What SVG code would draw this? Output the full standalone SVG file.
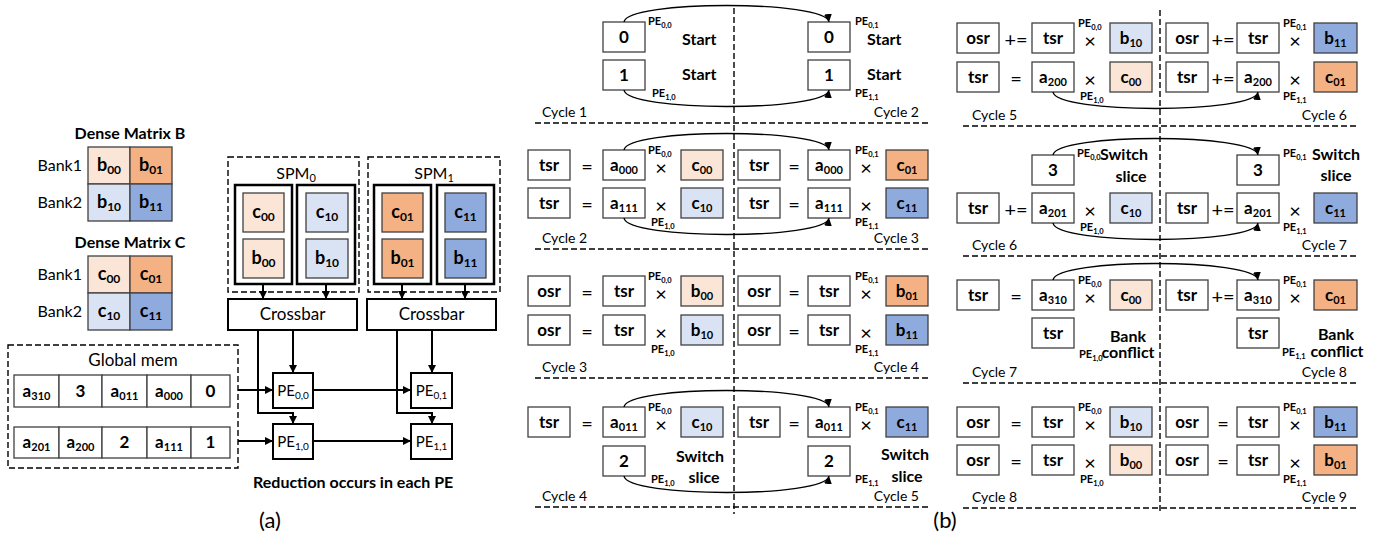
<svg xmlns="http://www.w3.org/2000/svg" width="1385" height="539" viewBox="0 0 1385 539">
<defs>
<style>
text{font-family:Lato,'Liberation Sans',sans-serif;fill:#000}
.bx{fill:#fff;stroke:#404040;stroke-width:1.3}
.lo{fill:#FBE5D6;stroke:#404040;stroke-width:1.3}
.or{fill:#F4B183;stroke:#404040;stroke-width:1.3}
.lb{fill:#DAE3F3;stroke:#404040;stroke-width:1.3}
.bl{fill:#8FAADC;stroke:#404040;stroke-width:1.3}
.bt{font-weight:700;font-size:17px;text-anchor:middle}
.s{font-size:11px}
.pe{font-weight:700;font-size:11px}
.ps{font-size:7.5px}
.op{font-size:20px;text-anchor:middle;dominant-baseline:central}
.cy{font-size:14px}
.cyr{font-size:14px;text-anchor:end}
.lab{font-weight:700;font-size:16px}
.dl{stroke:#000;stroke-width:1.4;stroke-dasharray:6 3;fill:none}
.arc{fill:none;stroke:#000;stroke-width:1.4;marker-end:url(#ah)}
.ln{fill:none;stroke:#000;stroke-width:2;marker-end:url(#ah)}
.thk{fill:#fff;stroke:#000;stroke-width:2.5}
.nm{font-size:17px;text-anchor:middle}
.cb{font-weight:700;font-size:18px;text-anchor:middle}
.cs{font-size:12px}
</style>
<marker id="ah" viewBox="0 0 10 10" refX="10" refY="5" markerWidth="8" markerHeight="8" markerUnits="userSpaceOnUse" orient="auto"><path d="M0,0 L10,5 L0,10 z" fill="#000"/></marker>
</defs>
<rect width="1385" height="539" fill="#fff"/>

<!-- ===== (a) ===== -->
<g id="legend-b">
<text class="lab" x="130" y="139" text-anchor="middle">Dense Matrix B</text>
<text x="82" y="171" font-size="16" text-anchor="end">Bank1</text>
<text x="82" y="208" font-size="16" text-anchor="end">Bank2</text>
<rect class="lo" x="88" y="147" width="42" height="37"/><text class="cb" x="109" y="171">b<tspan class="cs" dy="3">00</tspan></text>
<rect class="or" x="130" y="147" width="42" height="37"/><text class="cb" x="151" y="171">b<tspan class="cs" dy="3">01</tspan></text>
<rect class="lb" x="88" y="184" width="42" height="37"/><text class="cb" x="109" y="208">b<tspan class="cs" dy="3">10</tspan></text>
<rect class="bl" x="130" y="184" width="42" height="37"/><text class="cb" x="151" y="208">b<tspan class="cs" dy="3">11</tspan></text>
</g>
<g id="legend-c">
<text class="lab" x="130" y="248" text-anchor="middle">Dense Matrix C</text>
<text x="82" y="280" font-size="16" text-anchor="end">Bank1</text>
<text x="82" y="317" font-size="16" text-anchor="end">Bank2</text>
<rect class="lo" x="88" y="256" width="42" height="37"/><text class="cb" x="109" y="280">c<tspan class="cs" dy="3">00</tspan></text>
<rect class="or" x="130" y="256" width="42" height="37"/><text class="cb" x="151" y="280">c<tspan class="cs" dy="3">01</tspan></text>
<rect class="lb" x="88" y="293" width="42" height="37"/><text class="cb" x="109" y="317">c<tspan class="cs" dy="3">10</tspan></text>
<rect class="bl" x="130" y="293" width="42" height="37"/><text class="cb" x="151" y="317">c<tspan class="cs" dy="3">11</tspan></text>
</g>

<g id="spm0">
<rect class="dl" x="228" y="157" width="131" height="135"/>
<text x="296" y="179" font-size="16" text-anchor="middle">SPM<tspan font-size="11" dy="3">0</tspan></text>
<rect class="thk" x="235" y="185" width="57" height="99"/>
<rect class="thk" x="297" y="185" width="58" height="99"/>
<rect class="lo" x="243" y="193" width="41" height="39"/><text class="cb" x="263.5" y="218">c<tspan class="cs" dy="3">00</tspan></text>
<rect class="lo" x="243" y="239" width="41" height="39"/><text class="cb" x="263.5" y="264">b<tspan class="cs" dy="3">00</tspan></text>
<rect class="lb" x="306" y="193" width="42" height="39"/><text class="cb" x="327" y="218">c<tspan class="cs" dy="3">10</tspan></text>
<rect class="lb" x="306" y="239" width="42" height="39"/><text class="cb" x="327" y="264">b<tspan class="cs" dy="3">10</tspan></text>
</g>
<g id="spm1">
<rect class="dl" x="368" y="157" width="132" height="135"/>
<text x="434" y="179" font-size="16" text-anchor="middle">SPM<tspan font-size="11" dy="3">1</tspan></text>
<rect class="thk" x="374" y="185" width="57" height="99"/>
<rect class="thk" x="437" y="185" width="57" height="99"/>
<rect class="or" x="382" y="193" width="41" height="39"/><text class="cb" x="402.5" y="218">c<tspan class="cs" dy="3">01</tspan></text>
<rect class="or" x="382" y="239" width="41" height="39"/><text class="cb" x="402.5" y="264">b<tspan class="cs" dy="3">01</tspan></text>
<rect class="bl" x="445" y="193" width="41" height="39"/><text class="cb" x="465.5" y="218">c<tspan class="cs" dy="3">11</tspan></text>
<rect class="bl" x="445" y="239" width="41" height="39"/><text class="cb" x="465.5" y="264">b<tspan class="cs" dy="3">11</tspan></text>
</g>
<g id="crossbar0">
<rect x="228" y="299" width="129" height="31" fill="#fff" stroke="#000" stroke-width="2"/>
<text class="nm" x="292.5" y="320">Crossbar</text>
</g>
<g id="crossbar1">
<rect x="367" y="299" width="129" height="31" fill="#fff" stroke="#000" stroke-width="2"/>
<text class="nm" x="431.5" y="320">Crossbar</text>
</g>
<g id="pe00"><rect x="273" y="373" width="40" height="35" fill="#fff" stroke="#000" stroke-width="2"/><text x="293" y="396" font-size="15" text-anchor="middle">PE<tspan font-size="10" dy="3">0,0</tspan></text></g>
<g id="pe10"><rect x="273" y="424" width="40" height="35" fill="#fff" stroke="#000" stroke-width="2"/><text x="293" y="447" font-size="15" text-anchor="middle">PE<tspan font-size="10" dy="3">1,0</tspan></text></g>
<g id="pe01"><rect x="411" y="373" width="41" height="35" fill="#fff" stroke="#000" stroke-width="2"/><text x="431.5" y="396" font-size="15" text-anchor="middle">PE<tspan font-size="10" dy="3">0,1</tspan></text></g>
<g id="pe11"><rect x="411" y="424" width="41" height="35" fill="#fff" stroke="#000" stroke-width="2"/><text x="431.5" y="447" font-size="15" text-anchor="middle">PE<tspan font-size="10" dy="3">1,1</tspan></text></g>

<g id="global-mem">
<rect class="dl" x="8" y="345" width="230" height="123"/>
<text x="133" y="366" font-size="17" text-anchor="middle">Global mem</text>
<rect class="bx" x="14" y="375" width="45" height="32"/><text class="bt" x="36.5" y="397">a<tspan class="s" dy="3">310</tspan></text>
<rect class="bx" x="59" y="375" width="43" height="32"/><text class="bt" x="80.5" y="397">3</text>
<rect class="bx" x="102" y="375" width="45" height="32"/><text class="bt" x="124.5" y="397">a<tspan class="s" dy="3">011</tspan></text>
<rect class="bx" x="147" y="375" width="44" height="32"/><text class="bt" x="169" y="397">a<tspan class="s" dy="3">000</tspan></text>
<rect class="bx" x="191" y="375" width="39" height="32"/><text class="bt" x="210.5" y="397">0</text>
<rect class="bx" x="14" y="427" width="45" height="31"/><text class="bt" x="36.5" y="448">a<tspan class="s" dy="3">201</tspan></text>
<rect class="bx" x="59" y="427" width="43" height="31"/><text class="bt" x="80.5" y="448">a<tspan class="s" dy="3">200</tspan></text>
<rect class="bx" x="102" y="427" width="45" height="31"/><text class="bt" x="124.5" y="448">2</text>
<rect class="bx" x="147" y="427" width="44" height="31"/><text class="bt" x="169" y="448">a<tspan class="s" dy="3">111</tspan></text>
<rect class="bx" x="191" y="427" width="39" height="31"/><text class="bt" x="210.5" y="448">1</text>
</g>
<text class="lab" x="253" y="488">Reduction occurs in each PE</text>
<text x="270" y="528" font-size="22" text-anchor="middle">(a)</text>

<!-- ===== (b) frame ===== -->
<g id="grid-lines">
<path class="dl" d="M535,123 H928 M535,249 H928 M535,378 H928 M535,507 H928 M734,8 V514"/>
<path class="dl" d="M963,126 H1357 M963,256 H1357 M963,383 H1357 M963,508 H1357 M1160,10 V514"/>
</g>
<text x="945" y="528" font-size="22" text-anchor="middle">(b)</text>

<!-- Column 1 -->
<g id="c1-cycle1">
<rect class="bx" x="603" y="22" width="42" height="30"/><text class="bt" x="624" y="43">0</text>
<rect class="bx" x="603" y="60" width="42" height="30"/><text class="bt" x="624" y="81">1</text>
<text class="pe" x="648" y="25">PE<tspan class="ps" dy="3">0,0</tspan></text>
<text class="lab" x="682" y="45">Start</text>
<text class="lab" x="682" y="80">Start</text>
<text class="pe" x="652" y="97">PE<tspan class="ps" dy="3">1,0</tspan></text>
<rect class="bx" x="808" y="22" width="42" height="30"/><text class="bt" x="829" y="43">0</text>
<rect class="bx" x="808" y="60" width="42" height="30"/><text class="bt" x="829" y="81">1</text>
<text class="pe" x="855" y="25">PE<tspan class="ps" dy="3">0,1</tspan></text>
<text class="lab" x="867" y="45">Start</text>
<text class="lab" x="867" y="80">Start</text>
<text class="pe" x="855" y="97">PE<tspan class="ps" dy="3">1,1</tspan></text>
<text class="cy" x="542" y="117">Cycle 1</text>
<text class="cyr" x="919" y="117">Cycle 2</text>
</g>

<g id="c1-cycle2">
<rect class="bx" x="528" y="150" width="42" height="30"/><text class="bt" x="549" y="171">tsr</text>
<text class="op" x="587" y="166">=</text>
<rect class="bx" x="603" y="150" width="42" height="30"/><text class="bt" x="624" y="171">a<tspan class="s" dy="3">000</tspan></text>
<text class="op" x="661" y="167">×</text>
<rect class="lo" x="681" y="150" width="42" height="30"/><text class="bt" x="702" y="171">c<tspan class="s" dy="3">00</tspan></text>
<text class="pe" x="648" y="154">PE<tspan class="ps" dy="3">0,0</tspan></text>
<rect class="bx" x="528" y="188" width="42" height="30"/><text class="bt" x="549" y="209">tsr</text>
<text class="op" x="587" y="204">=</text>
<rect class="bx" x="603" y="188" width="42" height="30"/><text class="bt" x="624" y="209">a<tspan class="s" dy="3">111</tspan></text>
<text class="op" x="661" y="205">×</text>
<rect class="lb" x="681" y="188" width="42" height="30"/><text class="bt" x="702" y="209">c<tspan class="s" dy="3">10</tspan></text>
<text class="pe" x="651" y="226">PE<tspan class="ps" dy="3">1,0</tspan></text>
<rect class="bx" x="738" y="150" width="42" height="30"/><text class="bt" x="759" y="171">tsr</text>
<text class="op" x="794" y="166">=</text>
<rect class="bx" x="808" y="150" width="42" height="30"/><text class="bt" x="829" y="171">a<tspan class="s" dy="3">000</tspan></text>
<text class="op" x="866" y="167">×</text>
<rect class="or" x="886" y="150" width="42" height="30"/><text class="bt" x="907" y="171">c<tspan class="s" dy="3">01</tspan></text>
<text class="pe" x="855" y="154">PE<tspan class="ps" dy="3">0,1</tspan></text>
<rect class="bx" x="738" y="188" width="42" height="30"/><text class="bt" x="759" y="209">tsr</text>
<text class="op" x="794" y="204">=</text>
<rect class="bx" x="808" y="188" width="42" height="30"/><text class="bt" x="829" y="209">a<tspan class="s" dy="3">111</tspan></text>
<text class="op" x="866" y="205">×</text>
<rect class="bl" x="886" y="188" width="42" height="30"/><text class="bt" x="907" y="209">c<tspan class="s" dy="3">11</tspan></text>
<text class="pe" x="855" y="226">PE<tspan class="ps" dy="3">1,1</tspan></text>
<text class="cy" x="542" y="243">Cycle 2</text>
<text class="cyr" x="919" y="243">Cycle 3</text>
</g>

<g id="c1-cycle3">
<rect class="bx" x="528" y="276" width="42" height="30"/><text class="bt" x="549" y="297">osr</text>
<text class="op" x="587" y="292">=</text>
<rect class="bx" x="603" y="276" width="42" height="30"/><text class="bt" x="624" y="297">tsr</text>
<text class="op" x="661" y="293">×</text>
<rect class="lo" x="681" y="276" width="42" height="30"/><text class="bt" x="702" y="297">b<tspan class="s" dy="3">00</tspan></text>
<text class="pe" x="648" y="280">PE<tspan class="ps" dy="3">0,0</tspan></text>
<rect class="bx" x="528" y="315" width="42" height="30"/><text class="bt" x="549" y="336">osr</text>
<text class="op" x="587" y="331">=</text>
<rect class="bx" x="603" y="315" width="42" height="30"/><text class="bt" x="624" y="336">tsr</text>
<text class="op" x="661" y="332">×</text>
<rect class="lb" x="681" y="315" width="42" height="30"/><text class="bt" x="702" y="336">b<tspan class="s" dy="3">10</tspan></text>
<text class="pe" x="651" y="353">PE<tspan class="ps" dy="3">1,0</tspan></text>
<rect class="bx" x="738" y="276" width="42" height="30"/><text class="bt" x="759" y="297">osr</text>
<text class="op" x="794" y="292">=</text>
<rect class="bx" x="808" y="276" width="42" height="30"/><text class="bt" x="829" y="297">tsr</text>
<text class="op" x="866" y="293">×</text>
<rect class="or" x="886" y="276" width="42" height="30"/><text class="bt" x="907" y="297">b<tspan class="s" dy="3">01</tspan></text>
<text class="pe" x="855" y="280">PE<tspan class="ps" dy="3">0,1</tspan></text>
<rect class="bx" x="738" y="315" width="42" height="30"/><text class="bt" x="759" y="336">osr</text>
<text class="op" x="794" y="331">=</text>
<rect class="bx" x="808" y="315" width="42" height="30"/><text class="bt" x="829" y="336">tsr</text>
<text class="op" x="866" y="332">×</text>
<rect class="bl" x="886" y="315" width="42" height="30"/><text class="bt" x="907" y="336">b<tspan class="s" dy="3">11</tspan></text>
<text class="pe" x="855" y="353">PE<tspan class="ps" dy="3">1,1</tspan></text>
<text class="cy" x="542" y="372">Cycle 3</text>
<text class="cyr" x="919" y="372">Cycle 4</text>
</g>

<g id="c1-cycle4">
<rect class="bx" x="528" y="407" width="42" height="30"/><text class="bt" x="549" y="428">tsr</text>
<text class="op" x="587" y="423">=</text>
<rect class="bx" x="603" y="407" width="42" height="30"/><text class="bt" x="624" y="428">a<tspan class="s" dy="3">011</tspan></text>
<text class="op" x="661" y="424">×</text>
<rect class="lb" x="681" y="407" width="42" height="30"/><text class="bt" x="702" y="428">c<tspan class="s" dy="3">10</tspan></text>
<text class="pe" x="648" y="411">PE<tspan class="ps" dy="3">0,0</tspan></text>
<rect class="bx" x="603" y="446" width="42" height="30"/><text class="bt" x="624" y="467">2</text>
<text class="lab" x="700" y="462" text-anchor="middle">Switch</text>
<text class="pe" x="651" y="483">PE<tspan class="ps" dy="3">1,0</tspan></text>
<text class="lab" x="704" y="483" text-anchor="middle">slice</text>
<rect class="bx" x="738" y="407" width="42" height="30"/><text class="bt" x="759" y="428">tsr</text>
<text class="op" x="794" y="423">=</text>
<rect class="bx" x="808" y="407" width="42" height="30"/><text class="bt" x="829" y="428">a<tspan class="s" dy="3">011</tspan></text>
<text class="op" x="866" y="424">×</text>
<rect class="bl" x="886" y="407" width="42" height="30"/><text class="bt" x="907" y="428">c<tspan class="s" dy="3">11</tspan></text>
<text class="pe" x="855" y="411">PE<tspan class="ps" dy="3">0,1</tspan></text>
<rect class="bx" x="808" y="446" width="42" height="30"/><text class="bt" x="829" y="467">2</text>
<text class="lab" x="905" y="460" text-anchor="middle">Switch</text>
<text class="pe" x="855" y="483">PE<tspan class="ps" dy="3">1,1</tspan></text>
<text class="lab" x="907" y="482" text-anchor="middle">slice</text>
<text class="cy" x="542" y="501">Cycle 4</text>
<text class="cyr" x="919" y="501">Cycle 5</text>
</g>

<!-- Column 2 -->
<g id="c2-cycle5">
<rect class="bx" x="957" y="23" width="42" height="30"/><text class="bt" x="978" y="44">osr</text>
<text class="op" x="1016" y="39">+=</text>
<rect class="bx" x="1032" y="23" width="42" height="30"/><text class="bt" x="1053" y="44">tsr</text>
<text class="op" x="1090" y="40">×</text>
<rect class="lb" x="1110" y="23" width="42" height="30"/><text class="bt" x="1131" y="44">b<tspan class="s" dy="3">10</tspan></text>
<text class="pe" x="1078" y="27">PE<tspan class="ps" dy="3">0,0</tspan></text>
<rect class="bx" x="957" y="62" width="42" height="30"/><text class="bt" x="978" y="83">tsr</text>
<text class="op" x="1016" y="78">=</text>
<rect class="bx" x="1032" y="62" width="42" height="30"/><text class="bt" x="1053" y="83">a<tspan class="s" dy="3">200</tspan></text>
<text class="op" x="1090" y="79">×</text>
<rect class="lo" x="1110" y="62" width="42" height="30"/><text class="bt" x="1131" y="83">c<tspan class="s" dy="3">00</tspan></text>
<text class="pe" x="1080" y="100">PE<tspan class="ps" dy="3">1,0</tspan></text>
<rect class="bx" x="1166" y="23" width="42" height="30"/><text class="bt" x="1187" y="44">osr</text>
<text class="op" x="1223" y="39">+=</text>
<rect class="bx" x="1237" y="23" width="42" height="30"/><text class="bt" x="1258" y="44">tsr</text>
<text class="op" x="1295" y="40">×</text>
<rect class="bl" x="1314" y="23" width="43" height="30"/><text class="bt" x="1335.5" y="44">b<tspan class="s" dy="3">11</tspan></text>
<text class="pe" x="1283" y="27">PE<tspan class="ps" dy="3">0,1</tspan></text>
<rect class="bx" x="1166" y="62" width="42" height="30"/><text class="bt" x="1187" y="83">tsr</text>
<text class="op" x="1223" y="78">+=</text>
<rect class="bx" x="1237" y="62" width="42" height="30"/><text class="bt" x="1258" y="83">a<tspan class="s" dy="3">200</tspan></text>
<text class="op" x="1295" y="79">×</text>
<rect class="or" x="1314" y="62" width="43" height="30"/><text class="bt" x="1335.5" y="83">c<tspan class="s" dy="3">01</tspan></text>
<text class="pe" x="1283" y="100">PE<tspan class="ps" dy="3">1,1</tspan></text>
<text class="cy" x="972" y="120">Cycle 5</text>
<text class="cyr" x="1347" y="120">Cycle 6</text>
</g>

<g id="c2-cycle6">
<rect class="bx" x="1032" y="155" width="42" height="30"/><text class="bt" x="1053" y="176">3</text>
<text class="pe" x="1077" y="157">PE<tspan class="ps" dy="3">0,0</tspan></text>
<text class="lab" x="1100" y="160">Switch</text>
<text class="lab" x="1131" y="182" text-anchor="middle">slice</text>
<rect class="bx" x="957" y="193" width="42" height="30"/><text class="bt" x="978" y="214">tsr</text>
<text class="op" x="1016" y="209">+=</text>
<rect class="bx" x="1032" y="193" width="42" height="30"/><text class="bt" x="1053" y="214">a<tspan class="s" dy="3">201</tspan></text>
<text class="op" x="1090" y="210">×</text>
<rect class="lb" x="1110" y="193" width="42" height="30"/><text class="bt" x="1131" y="214">c<tspan class="s" dy="3">10</tspan></text>
<text class="pe" x="1080" y="231">PE<tspan class="ps" dy="3">1,0</tspan></text>
<rect class="bx" x="1237" y="155" width="42" height="30"/><text class="bt" x="1258" y="176">3</text>
<text class="pe" x="1283" y="157">PE<tspan class="ps" dy="3">0,1</tspan></text>
<text class="lab" x="1336" y="160" text-anchor="middle">Switch</text>
<text class="lab" x="1336" y="181" text-anchor="middle">slice</text>
<rect class="bx" x="1166" y="193" width="42" height="30"/><text class="bt" x="1187" y="214">tsr</text>
<text class="op" x="1223" y="209">+=</text>
<rect class="bx" x="1237" y="193" width="42" height="30"/><text class="bt" x="1258" y="214">a<tspan class="s" dy="3">201</tspan></text>
<text class="op" x="1295" y="210">×</text>
<rect class="bl" x="1314" y="193" width="43" height="30"/><text class="bt" x="1335.5" y="214">c<tspan class="s" dy="3">11</tspan></text>
<text class="pe" x="1283" y="231">PE<tspan class="ps" dy="3">1,1</tspan></text>
<text class="cy" x="972" y="250">Cycle 6</text>
<text class="cyr" x="1347" y="250">Cycle 7</text>
</g>

<g id="c2-cycle7">
<rect class="bx" x="957" y="280" width="42" height="30"/><text class="bt" x="978" y="301">tsr</text>
<text class="op" x="1016" y="296">=</text>
<rect class="bx" x="1032" y="280" width="42" height="30"/><text class="bt" x="1053" y="301">a<tspan class="s" dy="3">310</tspan></text>
<text class="op" x="1090" y="297">×</text>
<rect class="lo" x="1110" y="280" width="42" height="30"/><text class="bt" x="1131" y="301">c<tspan class="s" dy="3">00</tspan></text>
<text class="pe" x="1078" y="284">PE<tspan class="ps" dy="3">0,0</tspan></text>
<rect class="bx" x="1032" y="318" width="42" height="30"/><text class="bt" x="1053" y="339">tsr</text>
<text class="lab" x="1128" y="342" text-anchor="middle">Bank</text>
<text class="pe" x="1079" y="358">PE<tspan class="ps" dy="3">1,0</tspan></text>
<text class="lab" x="1128" y="358" text-anchor="middle">conflict</text>
<rect class="bx" x="1166" y="280" width="42" height="30"/><text class="bt" x="1187" y="301">tsr</text>
<text class="op" x="1223" y="296">+=</text>
<rect class="bx" x="1237" y="280" width="42" height="30"/><text class="bt" x="1258" y="301">a<tspan class="s" dy="3">310</tspan></text>
<text class="op" x="1295" y="297">×</text>
<rect class="or" x="1314" y="280" width="43" height="30"/><text class="bt" x="1335.5" y="301">c<tspan class="s" dy="3">01</tspan></text>
<text class="pe" x="1283" y="284">PE<tspan class="ps" dy="3">0,1</tspan></text>
<rect class="bx" x="1237" y="318" width="42" height="30"/><text class="bt" x="1258" y="339">tsr</text>
<text class="lab" x="1336" y="340" text-anchor="middle">Bank</text>
<text class="pe" x="1282" y="356">PE<tspan class="ps" dy="3">1,1</tspan></text>
<text class="lab" x="1337" y="357" text-anchor="middle">conflict</text>
<text class="cy" x="972" y="377">Cycle 7</text>
<text class="cyr" x="1347" y="377">Cycle 8</text>
</g>

<g id="c2-cycle8">
<rect class="bx" x="957" y="407" width="42" height="30"/><text class="bt" x="978" y="428">osr</text>
<text class="op" x="1016" y="423">=</text>
<rect class="bx" x="1032" y="407" width="42" height="30"/><text class="bt" x="1053" y="428">tsr</text>
<text class="op" x="1090" y="424">×</text>
<rect class="lb" x="1110" y="407" width="42" height="30"/><text class="bt" x="1131" y="428">b<tspan class="s" dy="3">10</tspan></text>
<text class="pe" x="1078" y="411">PE<tspan class="ps" dy="3">0,0</tspan></text>
<rect class="bx" x="957" y="445" width="42" height="30"/><text class="bt" x="978" y="466">osr</text>
<text class="op" x="1016" y="461">=</text>
<rect class="bx" x="1032" y="445" width="42" height="30"/><text class="bt" x="1053" y="466">tsr</text>
<text class="op" x="1090" y="462">×</text>
<rect class="lo" x="1110" y="445" width="42" height="30"/><text class="bt" x="1131" y="466">b<tspan class="s" dy="3">00</tspan></text>
<text class="pe" x="1080" y="483">PE<tspan class="ps" dy="3">1,0</tspan></text>
<rect class="bx" x="1166" y="407" width="42" height="30"/><text class="bt" x="1187" y="428">osr</text>
<text class="op" x="1223" y="423">=</text>
<rect class="bx" x="1237" y="407" width="42" height="30"/><text class="bt" x="1258" y="428">tsr</text>
<text class="op" x="1295" y="424">×</text>
<rect class="bl" x="1314" y="407" width="43" height="30"/><text class="bt" x="1335.5" y="428">b<tspan class="s" dy="3">11</tspan></text>
<text class="pe" x="1283" y="411">PE<tspan class="ps" dy="3">0,1</tspan></text>
<rect class="bx" x="1166" y="445" width="42" height="30"/><text class="bt" x="1187" y="466">osr</text>
<text class="op" x="1223" y="461">=</text>
<rect class="bx" x="1237" y="445" width="42" height="30"/><text class="bt" x="1258" y="466">tsr</text>
<text class="op" x="1295" y="462">×</text>
<rect class="or" x="1314" y="445" width="43" height="30"/><text class="bt" x="1335.5" y="466">b<tspan class="s" dy="3">01</tspan></text>
<text class="pe" x="1283" y="483">PE<tspan class="ps" dy="3">1,1</tspan></text>
<text class="cy" x="972" y="502">Cycle 8</text>
<text class="cyr" x="1347" y="502">Cycle 9</text>
</g>

<g id="connectors">
<path class="ln" d="M263,284 V299"/>
<path class="ln" d="M326,284 V299"/>
<path class="ln" d="M402,284 V299"/>
<path class="ln" d="M465,284 V299"/>
<path class="ln" d="M258,330 V413 H293 V424"/>
<path class="ln" d="M293,330 V373"/>
<path class="ln" d="M397,330 V413 H432 V424"/>
<path class="ln" d="M432,330 V373"/>
<path class="ln" d="M238,390 H273"/>
<path class="ln" d="M313,390 H411"/>
<path class="ln" d="M238,441 H273"/>
<path class="ln" d="M313,441 H411"/>
<path class="arc" d="M624,22 C627,0 826,0 829,22"/>
<path class="arc" d="M624,90 C627,112 826,112 829,90"/>
<path class="arc" d="M624,150 C627,128 826,128 829,150"/>
<path class="arc" d="M624,218 C627,240 826,240 829,218"/>
<path class="arc" d="M624,407 C627,385 826,385 829,407"/>
<path class="arc" d="M624,476 C627,498 826,498 829,476"/>
<path class="arc" d="M1053,92 C1056,114 1255,114 1258,92"/>
<path class="arc" d="M1053,155 C1056,133 1255,133 1258,155"/>
<path class="arc" d="M1053,223 C1056,245 1255,245 1258,223"/>
<path class="arc" d="M1053,280 C1056,258 1255,258 1258,280"/>
</g>
</svg>
